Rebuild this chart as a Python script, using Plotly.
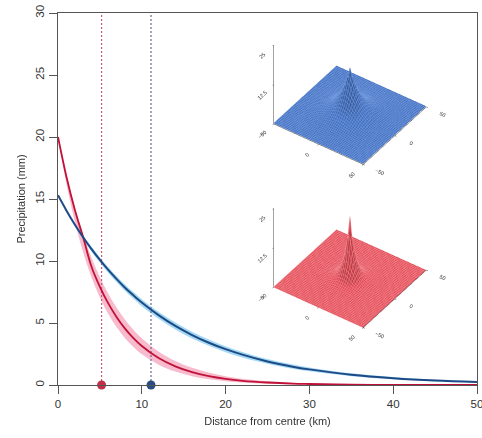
import numpy as np
import plotly.graph_objects as go

# ---- data ----
dist = [0, 1, 2, 3, 4, 5, 6, 7, 8, 9, 10, 12, 14, 16, 18, 20, 22, 25, 28, 30, 35, 40, 45, 50]

red_mean = [20, 16.82, 14.16, 11.91, 9.54, 7.92, 6.58, 5.47, 4.55, 3.78, 3.14, 2.17, 1.50, 1.03,
            0.71, 0.49, 0.34, 0.20, 0.11, 0.08, 0.03, 0.01, 0.0, 0.0]
red_upper = [20, 16.93, 14.33, 12.13, 10.27, 8.69, 7.36, 6.23, 5.27, 4.46, 3.78, 2.71, 1.94, 1.39,
             1.00, 0.71, 0.51, 0.31, 0.19, 0.13, 0.06, 0.03, 0.01, 0.0]
red_lower = [20, 16.24, 13.18, 10.71, 8.69, 7.05, 5.73, 4.65, 3.78, 3.07, 2.49, 1.64, 1.08, 0.71,
             0.47, 0.31, 0.20, 0.11, 0.06, 0.04, 0.01, 0.0, 0.0, 0.0]

blue_mean = [15.3, 14.08, 12.95, 11.92, 10.96, 10.09, 9.28, 8.54, 7.85, 7.23, 6.65, 5.63, 4.76, 4.03,
             3.41, 2.89, 2.45, 1.90, 1.48, 1.26, 0.83, 0.55, 0.36, 0.24]
blue_upper = [15.3, 14.13, 13.05, 12.06, 11.14, 10.29, 9.50, 8.78, 8.11, 7.49, 6.92, 5.90, 5.04, 4.30,
              3.67, 3.13, 2.67, 2.10, 1.66, 1.42, 0.95, 0.64, 0.43, 0.29]
blue_lower = [15.3, 14.01, 12.84, 11.76, 10.77, 9.87, 9.04, 8.28, 7.58, 6.95, 6.36, 5.34, 4.48, 3.76,
              3.16, 2.65, 2.22, 1.71, 1.31, 1.10, 0.71, 0.46, 0.30, 0.19]

red_scale = 5.2    # marked distance (red)
blue_scale = 11.1  # marked distance (blue)

x_ticks = [0, 10, 20, 30, 40, 50]
y_ticks = [0, 5, 10, 15, 20, 25, 30]
inset_xy_ticks = [-50, 0, 50]
inset_z_ticks = [0, 12.5, 25]

RED_LINE = "#c01238"
RED_BAND = "rgba(240,120,155,0.50)"
BLUE_LINE = "#1d4a86"
BLUE_BAND = "rgba(90,185,235,0.55)"
AXIS = "#555555"
FONT = "Liberation Sans, Arial, sans-serif"

fig = go.Figure()

# bands
for lo, up, col in [(red_lower, red_upper, RED_BAND), (blue_lower, blue_upper, BLUE_BAND)]:
    fig.add_trace(go.Scatter(x=dist, y=lo, mode="lines", line=dict(width=0, shape="spline"),
                             showlegend=False, hoverinfo="skip"))
    fig.add_trace(go.Scatter(x=dist, y=up, mode="lines", line=dict(width=0, shape="spline"),
                             fill="tonexty", fillcolor=col, showlegend=False, hoverinfo="skip"))

# dashed markers
for xv, col in [(red_scale, "#c85a78"), (blue_scale, "#6a6a9a")]:
    fig.add_trace(go.Scatter(x=[xv, xv], y=[0, 30], mode="lines",
                             line=dict(color=col, width=1.2, dash="2px,2px"),
                             showlegend=False, hoverinfo="skip"))

# mean lines
fig.add_trace(go.Scatter(x=dist, y=red_mean, mode="lines",
                         line=dict(color=RED_LINE, width=1.8, shape="spline"), showlegend=False))
fig.add_trace(go.Scatter(x=dist, y=blue_mean, mode="lines",
                         line=dict(color=BLUE_LINE, width=2, shape="spline"), showlegend=False))

# dots on the axis
fig.add_trace(go.Scatter(x=[red_scale, blue_scale], y=[0, 0], mode="markers",
                         marker=dict(size=9, color=["#c0304a", "#2a4a80"]),
                         cliponaxis=False, showlegend=False))

# ---- 3D insets: radial profiles rotated ----
g = np.linspace(-50, 50, 51)
GX, GY = np.meshgrid(g, g)
R = np.sqrt(GX ** 2 + GY ** 2)
z_blue = np.interp(R, dist, blue_mean)
z_red = np.interp(R, dist, red_mean)

def surf(z, base, line, scene):
    return go.Surface(x=g, y=g, z=z, scene=scene, showscale=False,
                      colorscale=[[0, base], [1, base]],
                      lighting=dict(ambient=0.85, diffuse=0.4, specular=0.05, roughness=0.9),
                      contours=dict(
                          x=dict(show=True, start=-50, end=50, size=2, color=line, width=1),
                          y=dict(show=True, start=-50, end=50, size=2, color=line, width=1)),
                      hoverinfo="skip")

fig.add_trace(surf(z_blue, "#4470c0", "#7098dc", "scene"))
fig.add_trace(surf(z_red, "#e44a55", "#f0848c", "scene2"))

def ax3d(tv, rng):
    return dict(range=rng, tickvals=tv, title=dict(text=""), showgrid=False, zeroline=False,
                showbackground=False, showline=True, linecolor="#444", linewidth=1,
                ticks="outside", ticklen=2, tickfont=dict(size=8, color="#333", family=FONT),
                showspikes=False)

k = 1.6
s = 1.335

def scene(domx, domy, cz):
    eye = dict(x=0.441 * k, y=-0.627 * k, z=0.643 * k + cz)
    return dict(domain=dict(x=domx, y=domy),
                xaxis=ax3d(inset_xy_ticks, [-50, 50]),
                yaxis=ax3d(inset_xy_ticks, [-50, 50]),
                zaxis=ax3d(inset_z_ticks, [0, 25]),
                aspectmode="manual", aspectratio=dict(x=s, y=s, z=0.94 * s),
                camera=dict(eye=eye, up=dict(x=0, y=0, z=1), center=dict(x=0, y=0, z=cz),
                            projection=dict(type="orthographic")),
                bgcolor="rgba(0,0,0,0)")

fig.update_layout(
    width=482, height=438,
    margin=dict(l=58, r=5, t=13, b=53),
    paper_bgcolor="white", plot_bgcolor="white",
    font=dict(family=FONT, size=11.5, color="#333"),
    xaxis=dict(range=[0, 50], tickvals=x_ticks, showgrid=False, zeroline=False, automargin=False,
               showline=True, linecolor=AXIS, linewidth=1.3, mirror=True,
               ticks="outside", ticklen=8, tickcolor=AXIS, ticklabeloverflow="allow",
               title=dict(text="Distance from centre (km)", font=dict(size=11), standoff=8)),
    yaxis=dict(range=[0, 30], tickvals=y_ticks, showgrid=False, zeroline=False, automargin=False,
               showline=True, linecolor=AXIS, linewidth=1.3, mirror=True,
               ticks="outside", ticklen=8, tickcolor=AXIS, tickangle=-90,
               title=dict(text="Precipitation (mm)", font=dict(size=11), standoff=6)),
    scene=scene([0.442, 0.952], [0.52, 0.96], -0.54),
    scene2=scene([0.442, 0.952], [0.089, 0.529], -0.49),
    showlegend=False,
)

fig.write_html("out.html", config={"displayModeBar": False},
               post_script="document.body.style.margin='0';document.body.style.overflow='hidden';")
